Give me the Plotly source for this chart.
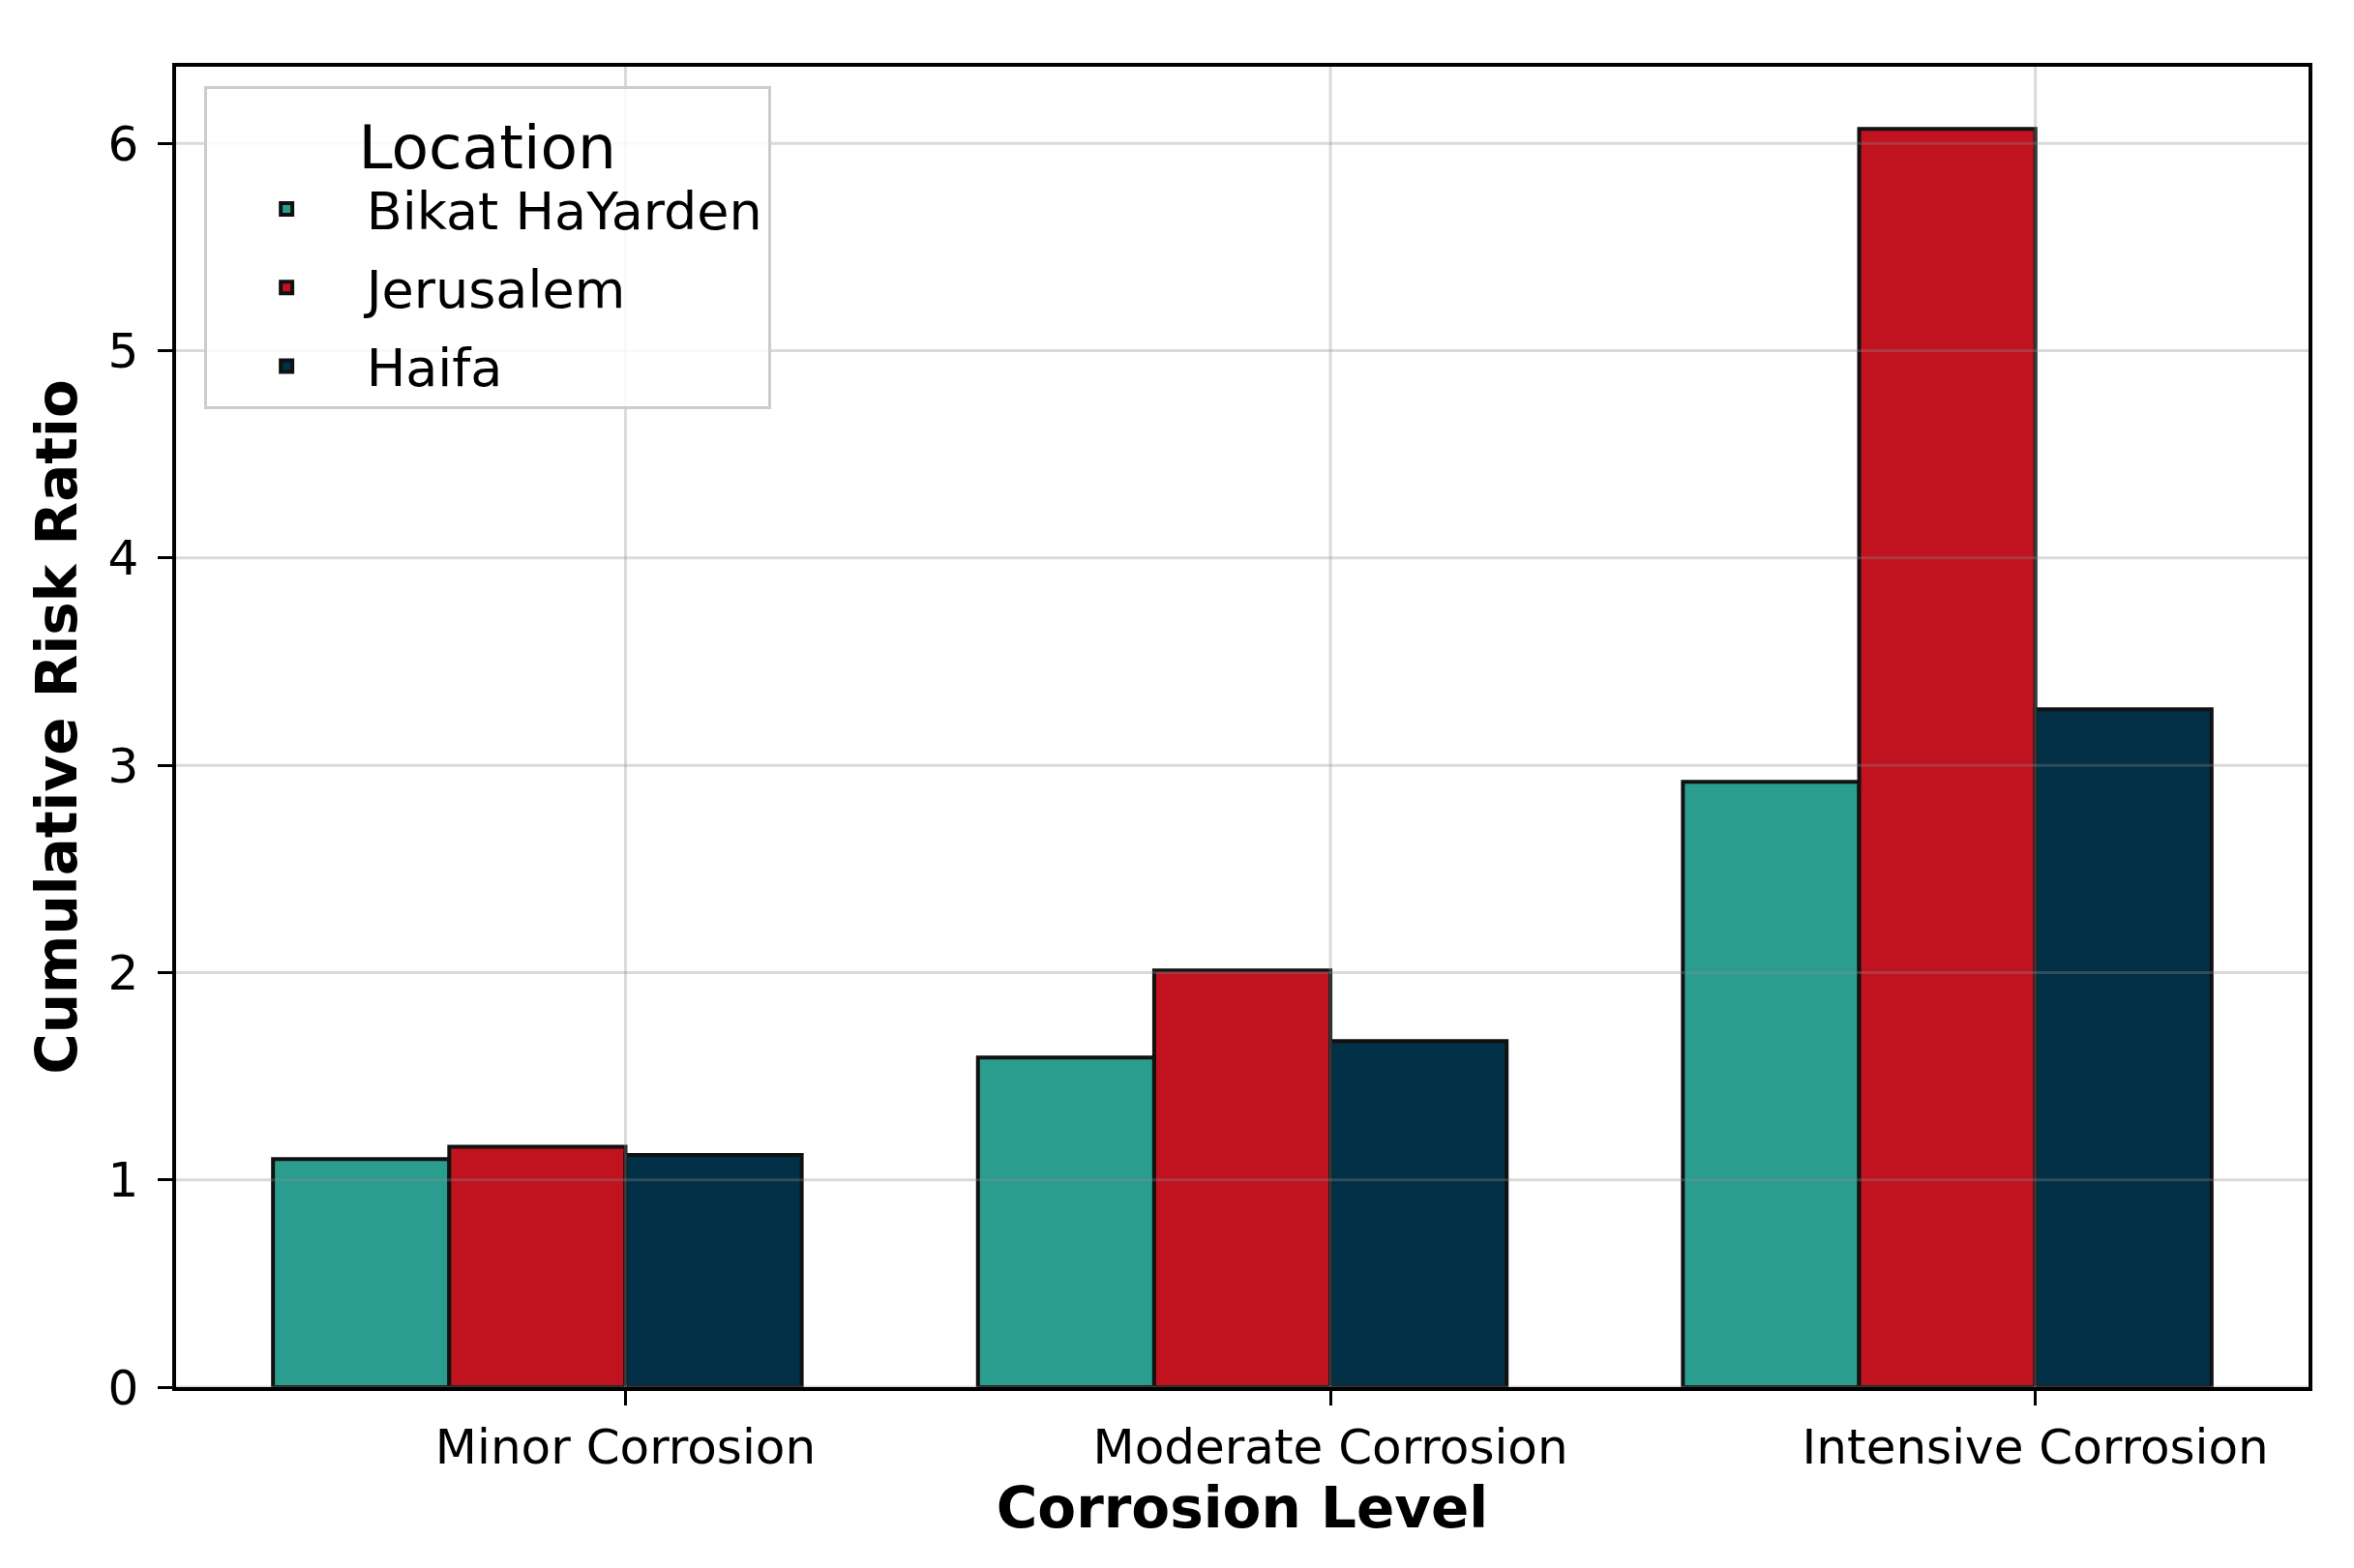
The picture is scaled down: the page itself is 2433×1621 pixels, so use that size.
import plotly.graph_objects as go

# ---- data ----
categories = ["Minor Corrosion", "Moderate Corrosion", "Intensive Corrosion"]
locations = ["Bikat HaYarden", "Jerusalem", "Haifa"]
bikat_hayarden = [1.10, 1.59, 2.92]
jerusalem = [1.16, 2.01, 6.07]
haifa = [1.12, 1.67, 3.27]
y_ticks = [0, 1, 2, 3, 4, 5, 6]

series = [bikat_hayarden, jerusalem, haifa]

# ---- style ----
colors = ["#2a9d8f", "#c1121f", "#023047"]
offsets = [-0.5, -0.25, 0.0]
bar_width = 0.25
FONT = "DejaVu Sans"
W, H = 2433, 1621

fig = go.Figure()
for name, vals, col, off in zip(locations, series, colors, offsets):
    fig.add_trace(go.Bar(
        x=categories, y=vals, name=name,
        offset=off, width=bar_width,
        marker=dict(color=col, line=dict(color="#111111", width=4)),
        legendgroup=name,
    ))

grid_color = "rgba(140,140,140,0.32)"
shapes = []
for t in y_ticks:
    shapes.append(dict(type="line", xref="x domain", yref="y", x0=0, x1=1, y0=t, y1=t,
                       line=dict(color=grid_color, width=3), layer="above"))
for c in categories:
    shapes.append(dict(type="line", xref="x", yref="y domain", x0=c, x1=c, y0=0, y1=1,
                       line=dict(color=grid_color, width=3), layer="above"))

fig.update_layout(
    width=W, height=H,
    margin=dict(l=174, r=55, t=61, b=195),
    paper_bgcolor="white", plot_bgcolor="white",
    font=dict(family=FONT, color="black", size=50),
    barmode="overlay",
    shapes=shapes,
    legend=dict(
        x=0.013, y=0.985, xanchor="left", yanchor="top",
        bgcolor="rgba(255,255,255,0.85)", bordercolor="#cccccc", borderwidth=3,
        font=dict(family=FONT, size=54, color="black"),
        title=dict(text="Location", side="top center", font=dict(family=FONT, size=63, color="black")),
        tracegroupgap=8, itemwidth=155,
    ),
    showlegend=True,
)
fig.update_xaxes(
    type="category", range=[-0.6375, 2.3875],
    showgrid=False, zeroline=False,
    showline=True, mirror=True, linecolor="black", linewidth=3.5,
    ticks="outside", ticklen=15, tickwidth=3, tickcolor="black",
    tickfont=dict(family=FONT, size=50, color="black"),
    title=dict(text="<b>Corrosion Level</b>", font=dict(family=FONT, size=58, color="black"), standoff=14),
)
fig.update_yaxes(
    range=[0, 6.37], tickvals=y_ticks,
    showgrid=False, zeroline=False,
    showline=True, mirror=True, linecolor="black", linewidth=3.5,
    ticks="outside", ticklen=15, tickwidth=3, tickcolor="black",
    ticklabelstandoff=10,
    tickfont=dict(family=FONT, size=50, color="black"),
    title=dict(text="<b>Cumulative Risk Ratio</b>", font=dict(family=FONT, size=58, color="black"), standoff=14),
)

fig.write_html("out.html")
